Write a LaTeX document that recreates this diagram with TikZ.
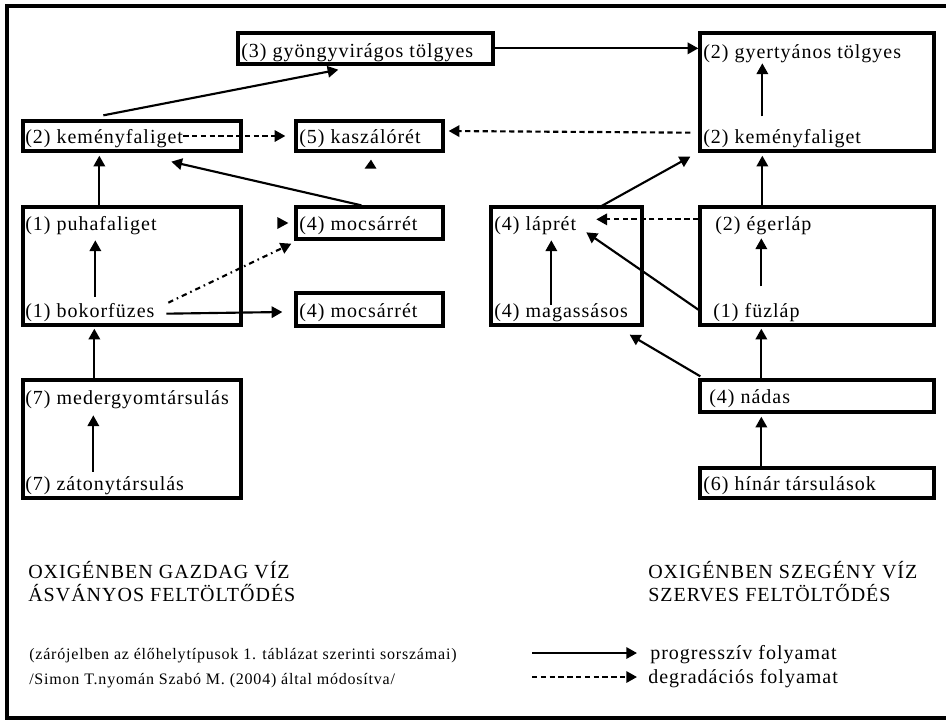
\documentclass[tikz,border=0pt]{standalone}
\usepackage{fontspec}
\setmainfont{Liberation Serif}[LetterSpace=5]
\usetikzlibrary{arrows.meta,calc,fit}
\begin{document}
\begin{tikzpicture}[x=0.75pt,y=-0.75pt,
  box/.style={draw,line width=2.5pt,inner sep=0pt},
  lbl/.style={anchor=base west,inner sep=0pt,font=\fontsize{15}{18}\selectfont},
  small/.style={anchor=base west,inner sep=0pt,font=\fontsize{12}{14}\selectfont},
  con/.style={line width=1.6pt,-{Triangle[length=8pt,width=8.5pt]}},
  deg/.style={con,dash pattern=on 4pt off 2.6pt},
  degdot/.style={con,dash pattern=on 4pt off 3pt on 1.2pt off 3pt},
]
\useasboundingbox (0,0) rectangle (946,722);
\fill[white] (0,0) rectangle (946,722);
% frame
\draw[line width=2.4pt] (946,6) -- (7,6) -- (7,718) -- (946,718);

% boxes
\node[box,fit={(238,33)(493,64)}] (bGyo) {};
\node[box,fit={(23,121)(241,151)}] (bKemL) {};
\node[box,fit={(296,121)(443,151)}] (bKasz) {};
\node[box,fit={(23,207)(241,325)}] (bPuha) {};
\node[box,fit={(296,207)(443,239)}] (bMocsA) {};
\node[box,fit={(296,293)(443,326)}] (bMocsB) {};
\node[box,fit={(23,380)(241,498)}] (bMeder) {};
\node[box,fit={(700,33)(934,151)}] (bGyer) {};
\node[box,fit={(491,207)(642,325)}] (bLap) {};
\node[box,fit={(700,207)(934,325)}] (bEger) {};
\node[box,fit={(700,380)(934,412)}] (bNad) {};
\node[box,fit={(700,468)(934,498)}] (bHin) {};

% texts
\node[lbl] (tGyo) at (241,57) {(3) gyöngyvirágos tölgyes};
\node[lbl] (tKemL) at (25,143) {(2) keményfaliget};
\node[lbl] (tKasz) at (299,143) {(5) kaszálórét};
\node[lbl] (tPuha) at (25,230) {(1) puhafaliget};
\node[lbl] (tMocsA) at (299,230) {(4) mocsárrét};
\node[lbl] (tBokor) at (25,317) {(1) bokorfüzes};
\node[lbl] (tMocsB) at (299,317) {(4) mocsárrét};
\node[lbl] (tMeder) at (25,404) {(7) medergyomtársulás};
\node[lbl] (tZat) at (25,490) {(7) zátonytársulás};
\node[lbl] (tGyer) at (703,58) {(2) gyertyános tölgyes};
\node[lbl] (tKemR) at (703,143) {(2) keményfaliget};
\node[lbl] (tLap) at (494,230) {(4) láprét};
\node[lbl] (tMag) at (494,317) {(4) magassásos};
\node[lbl] (tEger) at (715,230) {(2) égerláp};
\node[lbl] (tFuz) at (713,317) {(1) füzláp};
\node[lbl] (tNad) at (709,403) {(4) nádas};
\node[lbl] (tHin) at (703,490) {(6) hínár társulások};

\node[lbl] (capL1) at (28,578) {OXIGÉNBEN GAZDAG VÍZ};
\node[lbl] (capL2) at (28,601) {ÁSVÁNYOS FELTÖLTŐDÉS};
\node[lbl] (capR1) at (648,578) {OXIGÉNBEN SZEGÉNY VÍZ};
\node[lbl] (capR2) at (648,601) {SZERVES FELTÖLTŐDÉS};
\node[small] (note1) at (29,659) {(zárójelben az élőhelytípusok 1. táblázat szerinti sorszámai)};
\node[small] (note2) at (29,684) {/Simon T.nyomán Szabó M. (2004) által módosítva/};

% legend
\coordinate (lgA1) at (532,653); \coordinate (lgA2) at (637,653);
\coordinate (lgB1) at (532,677); \coordinate (lgB2) at (637,677);
\draw[con] (lgA1) -- (lgA2);
\draw[deg] (lgB1) -- (lgB2);
\node[lbl] (lgTA) at (650,659) {progresszív folyamat};
\node[lbl] (lgTB) at (648,683) {degradációs folyamat};

% connectors
\draw[con] ($(bGyo.north east)+(0,17)$) -- ($(bGyer.north west)+(0,17)$);
\draw[con] ($(bKemL.north west)+(82,-4)$) -- ($(bGyo.south west)+(102,4)$);
\draw[deg] (tKemL.east |- bKasz.west) -- ($(bKasz.west)+(-9,0)$);
\draw[deg] ($(bGyer.south west)+(-8,-20)$) -- ($(bKasz.east)+(4,-5)$);
\fill ($(bKasz.south)+(1.5,7)$) -- ($(bKasz.south)+(-5,16)$) -- ($(bKasz.south)+(7,16)$) -- cycle;
\draw[con] ($(bMocsA.north west)+(67,0)$) -- ($(bKemL.south west)+(150,9)$);
\draw[con] ($(bPuha.north west)+(78,0)$) -- ($(bKemL.south west)+(78,3)$);
\draw[con] ($(bPuha.south west)+(74,-30)$) -- ($(bPuha.north west)+(74,35)$);
\draw[degdot] ($(bPuha.south west)+(147,-24)$) -- ($(bMocsA.south west)+(-3,3)$);
\fill ($(bMocsA.west)+(-6,0)$) -- ($(bMocsA.west)+(-17,-6)$) -- ($(bMocsA.west)+(-17,6)$) -- cycle;
\draw[con] ($(bPuha.south west)+(145,-13)$) -- ($(bMocsB.west)+(-12,2.5)$);
\draw[con] ($(bMeder.north west)+(73,0)$) -- ($(bPuha.south west)+(73,2)$);
\draw[con] ($(bMeder.south west)+(72,-28)$) -- ($(bMeder.north west)+(72,37)$);
\draw[con] ($(bLap.north west)+(108,3)$) -- ($(bGyer.south west)+(-8,4)$);
\draw[deg] ($(bEger.north west)+(0,14)$) -- ($(bLap.north west)+(107,14)$);
\draw[con] ($(bEger.south west)+(0,-17)$) -- ($(bLap.north west)+(97,27)$);
\draw[con] ($(bLap.south west)+(62,-22)$) -- ($(bLap.north west)+(62,35)$);
\draw[con] ($(bEger.north west)+(64,0)$) -- ($(bGyer.south west)+(64,3)$);
\draw[con] ($(bGyer.north west)+(64,85)$) -- ($(bGyer.north west)+(64,32)$);
\draw[con] ($(bEger.north west)+(63,81)$) -- ($(bEger.north west)+(63,33)$);
\draw[con] ($(bNad.north west)+(63,0)$) -- ($(bEger.south west)+(63,2)$);
\draw[con] ($(bNad.north west)+(2,-2)$) -- ($(bLap.south east)+(-14,8)$);
\draw[con] ($(bHin.north west)+(63,0)$) -- ($(bNad.south west)+(63,3)$);
\end{tikzpicture}
\end{document}
